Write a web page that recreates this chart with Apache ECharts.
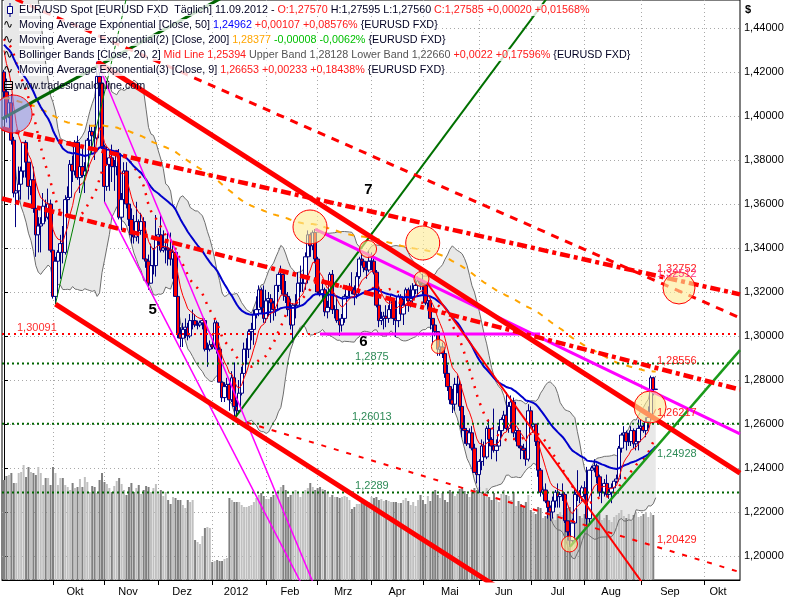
<!DOCTYPE html>
<html>
<head>
<meta charset="utf-8">
<script src="https://cdn.jsdelivr.net/npm/echarts@6/dist/echarts.min.js"></script>
<style>html,body{margin:0;padding:0;background:#fff}#c{width:800px;height:600px}</style>
</head>
<body>
<div id="c"></div>
<script>
// EUR/USD spot, daily bars from Mon 5 Sep 2011 (bar 0) to Tue 11 Sep 2012 (bar 266)
const open = [
  1.4200,1.4110,1.4000,1.4060,1.3890,1.3650,1.3660,1.3690,1.3750,1.3880,1.3790,1.3680,1.3710,1.3580,1.3460,1.3500,1.3510,1.3590,1.3540,1.3600,
  1.3390,1.3180,1.3340,1.3380,1.3420,1.3380,1.3620,1.3630,1.3780,1.3750,1.3880,1.3720,1.3770,1.3730,1.3750,1.3890,1.3930,1.3910,1.3900,1.4180,1.4150,
  1.3860,1.3680,1.3780,1.3810,1.3770,1.3770,1.3830,1.3540,1.3620,1.3750,1.3600,1.3530,1.3460,1.3450,1.3520,1.3480,1.3520,1.3350,1.3340,1.3240,1.3320,1.3320,
  1.3450,1.3460,1.3390,1.3400,1.3400,1.3390,1.3350,1.3380,1.3180,1.3010,1.2990,1.3030,1.3040,1.3000,1.3070,1.3070,1.3050,1.3050,1.3060,1.3070,1.2940,1.2940,
  1.2960,1.2950,1.3060,1.2940,1.2790,1.2720,1.2770,1.2780,1.2710,1.2810,1.2680,1.2660,1.2740,1.2830,1.2940,1.2940,1.3020,1.3030,1.3100,1.3120,1.3210,1.3130,
  1.3080,1.3160,1.3170,1.3150,1.3120,1.3230,1.3280,1.3280,1.3190,1.3180,1.3120,1.3050,1.3140,1.3140,1.3240,1.3240,1.3240,1.3360,1.3460,1.3410,1.3470,
  1.3350,1.3200,1.3190,1.3210,1.3110,1.3130,1.3280,1.3120,1.3120,1.3070,1.3050,1.3080,1.3180,1.3220,1.3220,1.3210,1.3190,1.3270,1.3350,1.3340,1.3310,1.3300,
  1.3340,1.3340,1.3290,1.3140,1.3070,1.3080,1.3090,1.3080,1.3120,1.3160,1.3080,1.3070,1.3180,1.3100,1.3140,1.3210,1.3160,1.3170,1.3210,1.3230,1.3250,
  1.3240,1.3230,1.3150,1.3160,1.3080,1.3050,1.3020,1.2940,1.2950,1.2920,1.2830,1.2770,1.2710,1.2690,1.2780,1.2780,1.2680,1.2580,1.2570,1.2510,1.2560,1.2490,1.2380,
  1.2370,1.2430,1.2500,1.2450,1.2580,1.2530,1.2500,1.2480,1.2500,1.2570,1.2620,1.2640,1.2580,1.2680,1.2700,1.2560,1.2570,1.2500,1.2490,1.2480,1.2440,
  1.2660,1.2590,1.2600,1.2520,1.2390,1.2290,1.2300,1.2250,1.2220,1.2200,1.2250,1.2290,1.2270,1.2280,1.2280,1.2160,1.2110,1.2070,1.2150,1.2280,1.2290,1.2270,
  1.2310,1.2280,1.2170,1.2390,1.2400,1.2410,1.2360,1.2290,1.2290,1.2330,1.2280,1.2290,1.2310,1.2340,1.2350,1.2490,1.2550,1.2560,1.2520,1.2520,1.2570,1.2510,1.2520,
  1.2580,1.2590,1.2570,1.2610,1.2630,1.2810,1.27570
];
const high = [
  1.4210,1.4170,1.4080,1.4100,1.3905,1.3690,1.3770,1.3770,1.3880,1.3890,1.3790,1.3780,1.3770,1.3590,1.3540,1.3540,1.3650,1.3620,1.3670,1.3620,
  1.3410,1.3360,1.3390,1.3460,1.3500,1.3640,1.3680,1.3800,1.3820,1.3890,1.3910,1.3800,1.3850,1.3790,1.3900,1.3960,1.3950,1.3960,1.4247,1.4200,1.4160,
  1.3870,1.3800,1.3850,1.3870,1.3800,1.3840,1.3850,1.3650,1.3790,1.3790,1.3640,1.3580,1.3550,1.3610,1.3530,1.3560,1.3540,1.3400,1.3370,1.3420,1.3400,1.3550,
  1.3490,1.3550,1.3480,1.3440,1.3470,1.3470,1.3430,1.3390,1.3220,1.3040,1.3060,1.3080,1.3060,1.3100,1.3120,1.3100,1.3070,1.3070,1.3080,1.3080,1.2970,1.2980,
  1.2980,1.3080,1.3070,1.2950,1.2810,1.2790,1.2810,1.2790,1.2840,1.2880,1.2710,1.2800,1.2860,1.2970,1.2990,1.3030,1.3060,1.3120,1.3180,1.3230,1.3220,1.3230,
  1.3210,1.3200,1.3190,1.3160,1.3230,1.3290,1.3320,1.3290,1.3250,1.3200,1.3170,1.3150,1.3190,1.3290,1.3320,1.3270,1.3380,1.3480,1.3470,1.3480,1.3486,
  1.3360,1.3270,1.3250,1.3220,1.3160,1.3290,1.3300,1.3140,1.3180,1.3080,1.3100,1.3190,1.3230,1.3240,1.3290,1.3230,1.3290,1.3360,1.3385,1.3350,1.3340,1.3385,
  1.3380,1.3370,1.3300,1.3160,1.3110,1.3110,1.3140,1.3140,1.3190,1.3170,1.3110,1.3190,1.3190,1.3170,1.3220,1.3220,1.3230,1.3240,1.3260,1.3270,1.3260,
  1.3283,1.3240,1.3180,1.3170,1.3080,1.3060,1.3020,1.2990,1.2970,1.2940,1.2870,1.2790,1.2760,1.2810,1.2820,1.2800,1.2690,1.2640,1.2580,1.2580,1.2590,1.2510,1.2420,
  1.2440,1.2530,1.2520,1.2590,1.2620,1.2540,1.2670,1.2530,1.2590,1.2630,1.2660,1.2745,1.2700,1.2730,1.2720,1.2590,1.2580,1.2510,1.2510,1.2490,1.2690,
  1.2680,1.2620,1.2600,1.2540,1.2400,1.2330,1.2330,1.2290,1.2230,1.2270,1.2300,1.2330,1.2290,1.2330,1.2290,1.2160,1.2140,1.2170,1.2310,1.2390,1.2300,1.2320,
  1.2340,1.2405,1.2390,1.2410,1.2440,1.2420,1.2370,1.2310,1.2350,1.2370,1.2320,1.2330,1.2340,1.2370,1.2500,1.2560,1.2590,1.2570,1.2560,1.2590,1.2580,1.2560,1.2620,
  1.2620,1.2600,1.2630,1.2680,1.2820,1.2815,1.27595
];
const low = [
  1.4080,1.3970,1.3990,1.3870,1.3630,1.3495,1.3610,1.3620,1.3720,1.3720,1.3620,1.3640,1.3560,1.3360,1.3380,1.3380,1.3510,1.3520,1.3530,1.3380,
  1.3170,1.3145,1.3220,1.3260,1.3330,1.3370,1.3540,1.3620,1.3700,1.3730,1.3710,1.3650,1.3720,1.3650,1.3740,1.3850,1.3830,1.3800,1.3890,1.4090,1.3850,
  1.3610,1.3660,1.3660,1.3700,1.3660,1.3730,1.3530,1.3480,1.3600,1.3580,1.3500,1.3420,1.3420,1.3430,1.3420,1.3460,1.3350,1.3310,1.3210,1.3240,1.3280,1.3270,
  1.3410,1.3380,1.3380,1.3330,1.3320,1.3320,1.3260,1.3180,1.2990,1.2950,1.2950,1.2990,1.2980,1.2990,1.3030,1.3040,1.3030,1.3040,1.3030,1.2930,1.2860,1.2930,
  1.2940,1.2940,1.2920,1.2790,1.2700,1.2700,1.2750,1.2660,1.2700,1.2624,1.2640,1.2650,1.2730,1.2820,1.2870,1.2900,1.2980,1.2960,1.3080,1.3090,1.3100,1.3060,
  1.3060,1.3090,1.3060,1.3070,1.3090,1.3200,1.3210,1.3160,1.3150,1.3090,1.3030,1.2970,1.3080,1.3140,1.3200,1.3200,1.3210,1.3350,1.3360,1.3390,1.3330,
  1.3190,1.3180,1.3160,1.3090,1.3080,1.3120,1.3100,1.3080,1.3060,1.3000,1.3020,1.3060,1.3160,1.3170,1.3190,1.3140,1.3170,1.3260,1.3320,1.3290,1.3260,1.3290,
  1.3300,1.3280,1.3130,1.3040,1.3050,1.3030,1.3040,1.3060,1.3100,1.3050,1.2995,1.3040,1.3080,1.3050,1.3110,1.3110,1.3130,1.3150,1.3190,1.3180,1.3210,
  1.3190,1.3140,1.3120,1.3030,1.2960,1.3000,1.2910,1.2910,1.2900,1.2810,1.2750,1.2690,1.2650,1.2660,1.2740,1.2660,1.2540,1.2510,1.2500,1.2490,1.2480,1.2380,1.2330,
  1.2288,1.2390,1.2410,1.2440,1.2510,1.2440,1.2470,1.2430,1.2480,1.2540,1.2590,1.2570,1.2560,1.2650,1.2540,1.2520,1.2490,1.2440,1.2440,1.2410,1.2430,
  1.2590,1.2560,1.2500,1.2360,1.2270,1.2280,1.2240,1.2170,1.2160,1.2170,1.2220,1.2220,1.2220,1.2250,1.2150,1.2070,1.2042,1.2060,1.2120,1.2250,1.2240,1.2250,
  1.2260,1.2130,1.2140,1.2370,1.2380,1.2330,1.2270,1.2240,1.2270,1.2270,1.2260,1.2240,1.2290,1.2330,1.2340,1.2470,1.2530,1.2480,1.2500,1.2500,1.2490,1.2480,1.2480,
  1.2570,1.2560,1.2540,1.2580,1.2620,1.2730,1.27560
];
const close = [
  1.4110,1.4000,1.4060,1.3890,1.3650,1.3660,1.3690,1.3750,1.3880,1.3790,1.3680,1.3710,1.3580,1.3460,1.3500,1.3510,1.3590,1.3540,1.3600,1.3390,
  1.3180,1.3340,1.3380,1.3420,1.3380,1.3620,1.3630,1.3780,1.3750,1.3880,1.3720,1.3770,1.3730,1.3750,1.3890,1.3930,1.3910,1.3900,1.4180,1.4150,1.3860,
  1.3680,1.3780,1.3810,1.3770,1.3770,1.3830,1.3540,1.3620,1.3750,1.3600,1.3530,1.3460,1.3450,1.3520,1.3480,1.3520,1.3350,1.3340,1.3240,1.3320,1.3320,1.3450,
  1.3460,1.3390,1.3400,1.3400,1.3390,1.3350,1.3380,1.3180,1.3010,1.2990,1.3030,1.3040,1.3000,1.3070,1.3070,1.3050,1.3050,1.3060,1.3070,1.2940,1.2940,1.2960,
  1.2950,1.3060,1.2940,1.2790,1.2720,1.2770,1.2780,1.2710,1.2810,1.2680,1.2660,1.2740,1.2830,1.2940,1.2940,1.3020,1.3030,1.3100,1.3120,1.3210,1.3130,1.3080,
  1.3160,1.3170,1.3150,1.3120,1.3230,1.3280,1.3280,1.3190,1.3180,1.3120,1.3050,1.3140,1.3140,1.3240,1.3240,1.3240,1.3360,1.3460,1.3410,1.3470,1.3350,
  1.3200,1.3190,1.3210,1.3110,1.3130,1.3280,1.3120,1.3120,1.3070,1.3050,1.3080,1.3180,1.3220,1.3220,1.3210,1.3190,1.3270,1.3350,1.3340,1.3310,1.3300,1.3340,
  1.3340,1.3290,1.3140,1.3070,1.3080,1.3090,1.3080,1.3120,1.3160,1.3080,1.3070,1.3180,1.3100,1.3140,1.3210,1.3160,1.3170,1.3210,1.3230,1.3250,1.3240,
  1.3230,1.3150,1.3160,1.3080,1.3050,1.3020,1.2940,1.2950,1.2920,1.2830,1.2770,1.2710,1.2690,1.2780,1.2780,1.2680,1.2580,1.2570,1.2510,1.2560,1.2490,1.2380,1.2370,
  1.2430,1.2500,1.2450,1.2580,1.2530,1.2500,1.2480,1.2500,1.2570,1.2620,1.2640,1.2580,1.2680,1.2700,1.2560,1.2570,1.2500,1.2490,1.2480,1.2440,1.2660,
  1.2590,1.2600,1.2520,1.2390,1.2290,1.2300,1.2250,1.2220,1.2200,1.2250,1.2290,1.2270,1.2280,1.2280,1.2160,1.2110,1.2070,1.2150,1.2280,1.2290,1.2270,1.2310,
  1.2280,1.2170,1.2390,1.2400,1.2410,1.2360,1.2290,1.2290,1.2330,1.2280,1.2290,1.2310,1.2340,1.2350,1.2490,1.2550,1.2560,1.2520,1.2520,1.2570,1.2510,1.2520,1.2580,
  1.2590,1.2570,1.2610,1.2630,1.2810,1.27565,1.27585
];
// tick volume per bar
const volume = [
  100,104,105,107,97,97,107,108,115,103,113,108,107,105,113,107,95,102,102,95,
  113,107,95,102,102,95,93,90,97,92,93,101,93,103,98,88,94,93,87,100,107,
  98,96,92,88,94,99,102,96,90,85,93,97,88,92,95,86,90,94,93,88,92,96,
  86,90,84,88,80,76,83,82,80,80,75,72,80,78,80,40,38,36,44,52,53,52,
  18,19,20,19,19,21,22,82,80,78,78,78,75,73,73,74,75,78,82,85,87,84,
  81,81,83,85,88,90,93,95,90,83,85,87,90,88,83,86,90,92,97,93,90,
  92,93,91,90,88,83,85,83,83,82,83,84,83,80,71,73,76,76,77,77,78,78,
  83,82,83,80,81,79,80,79,78,78,78,77,77,80,82,79,75,78,74,80,85,
  80,76,84,79,88,90,85,82,87,80,78,90,88,84,86,91,93,89,86,83,88,92,90,
  93,88,85,92,83,80,87,82,78,86,90,85,84,80,88,74,79,76,73,78,85,
  70,68,66,73,72,62,64,70,67,63,60,66,68,65,70,72,73,69,66,71,64,62,
  66,68,70,62,60,64,66,60,62,65,60,58,63,65,67,70,64,62,66,60,65,68,63,
  64,66,68,63,67,65,0
];
// closes of the 20 sessions before the first bar (8 Aug - 2 Sep 2011), used to start the indicators
const priorClose = [1.4190,1.4340,1.4180,1.4240,1.4240,1.4430,1.4400,1.4430,1.4340,1.4400,
                    1.4400,1.4450,1.4400,1.4380,1.4490,1.4500,1.4460,1.4370,1.4240,1.4200];
const ema50Start = 1.4300;
const ema200Start = 1.4020;

// time axis: first bar of each month, label positions and names
const monthStart = [20, 41, 63, 85, 107, 128, 150, 171, 194, 215, 237, 260, 286];
const monthLabelAt = [29, 50.6, 72.7, 94.7, 116.7, 138.4, 160.4, 182, 204, 226, 247.8, 271.8, 291.4];
const monthNames = ['Okt', 'Nov', 'Dez', '2012', 'Feb', 'Mrz', 'Apr', 'Mai', 'Jun', 'Jul', 'Aug', 'Sep', 'Okt'];
const priceTicks = [1.20, 1.22, 1.24, 1.26, 1.28, 1.30, 1.32, 1.34, 1.36, 1.38, 1.40, 1.42, 1.44];

// horizontal levels and their captions
const levels = [1.30091, 1.2875, 1.26013, 1.2289];
const levelText = ['1,30091', '1,2875', '1,26013', '1,2289'];
const levelLabelBar = [5.3, 143.3, 142, 143.3];

// trend lines: two anchor points each [bar, price]
const lineA = [[38, 1.4247], [266, 1.26217]];
const lineB = [[21, 1.3145], [94, 1.2624]];
const lineC = [[-1.633, 1.3945], [266, 1.32752]];
const lineD = [[-1.633, 1.4562], [266, 1.32512]];
const lineE = [[-1.633, 1.36273], [266, 1.28556]];
const lineF = [[94, 1.2624], [266, 1.20429]];
const lineG = [[172.7, 1.3241], [262, 1.1855]];
const green1 = [[21, 1.3145], [44.1, 1.4255]];
const green2 = [[-1.633, 1.39818], [87.3, 1.45273]];
const green3 = [[94, 1.2624], [221.5, 1.4534]];
const green4 = [[231, 1.2042], [266, 1.24928]];
const pink1 = [[38, 1.4247], [125.7, 1.18909]];
const pink2 = [[41, 1.3610], [120, 1.1904]];
const pink3 = [[127, 1.3486], [266, 1.27396]];
const pink4 = [[129, 1.30091], [218.8, 1.30091]];

// values of the trend lines at the last bar, as captioned
const lineTags = [
  [266.5, 1.32752, '1,32752'], [266.5, 1.32512, '1,32512'], [266.5, 1.28556, '1,28556'],
  [266.5, 1.26217, '1,26217'], [266.5, 1.24928, '1,24928'], [266.5, 1.20429, '1,20429']
];
// marked turning points [bar, price]
const marks = [[124.9, 1.34955], [170.9, 1.34227], [148.6, 1.33955], [170.4, 1.32591],
               [177.3, 1.29523], [275.5, 1.32182], [263.7, 1.26773], [230.8, 1.20545], [3.7, 1.40091]];
// wave counts [bar, price, label]
const waves = [[60.7, 1.31182, '5'], [146.7, 1.29714, '6'], [148.7, 1.36636, '7']];

// ---------- styles ----------
const markRadius = [17, 17, 8.5, 7.5, 7, 16, 16, 8, 19];
const tagColor = ['#ff2020', '#ff3a8a', '#ff2020', '#ff2020', '#2e8b57', '#ff2020'];
const tagBelow = [false, false, false, false, true, false];
const FONT = '"Liberation Sans", Arial, sans-serif';
const HEAD_FONT = '10.75px ' + FONT;
const X_MIN = -0.816, X_MAX = 300.4;
const Y_MIN = 1.18909, Y_MAX = 1.45273;

// ---------- indicators ----------
const N = close.length;
const W = priorClose.length;
const allClose = priorClose.concat(close);
function ema(n, seed) {
  const k = 2 / (n + 1);
  let e = seed;
  return allClose.map(v => (e = e + k * (v - e))).slice(W);
}
const ema9 = ema(9, priorClose[0]);
const ema50 = ema(50, ema50Start);
const ema200 = ema(200, ema200Start);
const bbMid = [], bbUp = [], bbLo = [];
for (let i = 0; i < N; i++) {
  const w = allClose.slice(i + W - 19, i + W + 1);
  const m = w.reduce((a, b) => a + b, 0) / w.length;
  const sd = Math.sqrt(w.reduce((a, b) => a + (b - m) * (b - m), 0) / w.length);
  bbMid.push(m); bbUp.push(m + 2 * sd); bbLo.push(m - 2 * sd);
}
const pts = arr => arr.map((v, i) => [i, v]);

// extend a two-point line to the plot edges
function ray(seg, mode) {
  const p = seg[0], q = seg[1];
  const s = (q[1] - p[1]) / (q[0] - p[0]);
  const at = x => [x, p[1] + s * (x - p[0])];
  const a = mode === 'both' ? at(X_MIN) : p;
  const b = mode === 'none' ? q : at(X_MAX);
  return [a, b];
}
function lineSeries(data, color, width, dash, z) {
  return {
    type: 'line', data, symbol: 'none', silent: true, animation: false, z: z || 5,
    lineStyle: { color, width, type: dash || 'solid', cap: 'butt' }
  };
}

const series = [];
// Bollinger band fill
series.push({
  type: 'custom', z: 1, silent: true, data: [[0, bbMid[0]]],
  renderItem: (params, api) => {
    const poly = [];
    for (let i = 0; i < N; i++) poly.push(api.coord([i, bbUp[i]]));
    for (let i = N - 1; i >= 0; i--) poly.push(api.coord([i, bbLo[i]]));
    return { type: 'polygon', shape: { points: poly }, style: { fill: '#e8e8e8' } };
  }
});
series.push(lineSeries(pts(bbUp), '#6e6e6e', 1, 'solid', 2));
series.push(lineSeries(pts(bbLo), '#6e6e6e', 1, 'solid', 2));
// volume
series.push({
  type: 'bar', yAxisIndex: 1, barWidth: 2, z: 2, silent: true,
  data: volume.map((v, i) => ({ value: [i, v], itemStyle: { color: close[i] >= open[i] ? '#c0c0c0' : '#808080' } }))
});
// price bars
series.push({
  type: 'candlestick', z: 3, barWidth: 3.8, silent: true,
  encode: { x: 0, y: [1, 2, 3, 4] },
  data: close.map((c, i) => [i, open[i], c, low[i], high[i]]),
  itemStyle: { color: '#ffffff', color0: '#ff0000', borderColor: '#000080', borderColor0: '#000080', borderWidth: 1 }
});
// indicators
series.push(lineSeries(pts(ema200), '#ffa500', 2, [6, 7], 4));
series.push(lineSeries(pts(bbMid), '#ff0000', 2.5, [2, 7], 4));
series.push(lineSeries(pts(ema50), '#0000cc', 2, 'solid', 4));
series.push(lineSeries(pts(ema9), '#ff0000', 1, 'solid', 4));
// horizontal levels
series.push(lineSeries([[X_MIN, levels[0]], [X_MAX, levels[0]]], '#ff0000', 2, [2, 4], 5));
for (let k = 1; k < levels.length; k++) {
  series.push(lineSeries([[X_MIN, levels[k]], [X_MAX, levels[k]]], '#006400', 2, [2, 3], 5));
}
// trend lines
series.push(lineSeries(ray(green2, 'both'), '#006400', 3, 'solid', 5));
series.push(lineSeries(ray(green1, 'right'), '#008000', 1, 'solid', 5));
series.push(lineSeries(ray(green3, 'right'), '#007000', 2, 'solid', 5));
series.push(lineSeries(ray(green4, 'right'), '#1a9a1a', 2.5, 'solid', 5));
series.push(lineSeries(ray(pink1, 'right'), '#ff00ff', 1.5, 'solid', 5));
series.push(lineSeries(ray(pink2, 'right'), '#ff00ff', 1.5, 'solid', 5));
series.push(lineSeries(ray(pink3, 'right'), '#ff00ff', 3, 'solid', 5));
series.push(lineSeries(ray(pink4, 'none'), '#ff00ff', 3, 'solid', 5));
series.push(lineSeries(ray(lineD, 'both'), '#ff0000', 3, [8, 7], 5));
series.push(lineSeries(ray(lineC, 'both'), '#ff0000', 4.5, [10, 4, 4, 4], 5));
series.push(lineSeries(ray(lineE, 'both'), '#ff0000', 4.5, [10, 4, 4, 4], 5));
series.push(lineSeries(ray(lineF, 'right'), '#ff0000', 2, [5, 8], 5));
series.push(lineSeries(ray(lineG, 'right'), '#ff0000', 2, 'solid', 5));
series.push(lineSeries(ray(lineA, 'right'), '#ff0000', 5, 'solid', 5));
series.push(lineSeries(ray(lineB, 'right'), '#ff0000', 5, 'solid', 5));
// circled points
series.push({
  type: 'custom', z: 7, silent: true, data: marks,
  renderItem: (params, api) => {
    const i = params.dataIndex;
    const p = api.coord([api.value(0), api.value(1)]);
    const lav = i === marks.length - 1;
    return {
      type: 'circle', shape: { cx: p[0], cy: p[1], r: markRadius[i] },
      style: { fill: lav ? 'rgba(140,140,225,0.55)' : 'rgba(253,236,150,0.62)', stroke: '#ff0000', lineWidth: 1 }
    };
  }
});
// captions on levels and line ends
series.push({
  type: 'custom', z: 8, silent: true, data: levels.map((v, k) => [levelLabelBar[k], v]),
  renderItem: (params, api) => {
    const k = params.dataIndex;
    const p = api.coord([api.value(0), api.value(1)]);
    return {
      type: 'text', x: p[0], y: p[1] - 1,
      style: { text: levelText[k], fill: k === 0 ? '#ff3030' : '#2e8b57', font: '11px ' + FONT, align: 'left', verticalAlign: 'bottom' }
    };
  }
});
series.push({
  type: 'custom', z: 8, silent: true, data: lineTags.map(t => [t[0], t[1]]),
  renderItem: (params, api) => {
    const k = params.dataIndex;
    const p = api.coord([api.value(0), api.value(1)]);
    return {
      type: 'text', x: p[0], y: tagBelow[k] ? p[1] + 1 : p[1] - 1,
      style: { text: lineTags[k][2], fill: tagColor[k], font: '11px ' + FONT, align: 'left', verticalAlign: tagBelow[k] ? 'top' : 'bottom' }
    };
  }
});
series.push({
  type: 'custom', z: 8, silent: true, data: waves.map(t => [t[0], t[1]]),
  renderItem: (params, api) => {
    const k = params.dataIndex;
    const p = api.coord([api.value(0), api.value(1)]);
    return {
      type: 'text', x: p[0], y: p[1],
      style: { text: waves[k][2], fill: '#000000', font: 'bold 15px ' + FONT, align: 'center', verticalAlign: 'middle' }
    };
  }
});

// header lines
const rich = {
  r: { fill: '#ff1a1a', font: HEAD_FONT },
  b: { fill: '#0000ff', font: HEAD_FONT },
  o: { fill: '#ffa500', font: HEAD_FONT },
  g: { fill: '#00c000', font: HEAD_FONT },
  s: { fill: '#555555', font: HEAD_FONT }
};
const header = [
  'EUR/USD Spot [EURUSD FXD  Täglich] 11.09.2012 - {r|O:1,27570} H:1,27595 L:1,27560 {r|C:1,27585 +0,00020 +0,01568%}',
  'Moving Average Exponential [Close, 50] {b|1,24962} {r|+0,00107 +0,08576%} {EURUSD FXD}',
  'Moving Average Exponential(2) [Close, 200] {o|1,28377} {g|-0,00008 -0,0062%} {EURUSD FXD}',
  'Bollinger Bands [Close, 20, 2] {r|Mid Line 1,25394} {s|Upper Band 1,28128 Lower Band 1,22660} {r|+0,0022 +0,17596%} {EURUSD FXD}',
  'Moving Average Exponential(3) [Close, 9] {r|1,26653 +0,00233 +0,18438%} {EURUSD FXD}'
];
const graphic = [];
header.forEach((t, k) => {
  graphic.push({
    type: 'text', x: 19, y: 10 + 15 * k, z: 100,
    style: { text: t, rich, fill: '#000022', font: HEAD_FONT, verticalAlign: 'middle',
             backgroundColor: 'rgba(255,255,255,0.8)', padding: [1, 1, 0, 0] }
  });
  if (k > 0) {
    graphic.push({ type: 'text', x: 3, y: 10 + 15 * k, z: 100,
      style: { text: '∿', fill: '#000000', font: '12px "DejaVu Sans"', verticalAlign: 'middle' } });
  }
});
graphic.push({ type: 'line', z: 100, shape: { x1: 10, y1: 3, x2: 10, y2: 17 }, style: { stroke: '#000080', lineWidth: 1 } });
graphic.push({ type: 'rect', z: 100, shape: { x: 7.5, y: 6.5, width: 5, height: 7 }, style: { fill: '#ffffff', stroke: '#000080', lineWidth: 1 } });
graphic.push({ type: 'rect', z: 100, shape: { x: 4.5, y: 81.5, width: 8, height: 8 }, style: { fill: 'rgba(255,255,255,0.6)', stroke: '#000000', lineWidth: 1 } });
graphic.push({ type: 'line', z: 100, shape: { x1: 5, y1: 84.5, x2: 12, y2: 84.5 }, style: { stroke: '#000000', lineWidth: 1 } });
graphic.push({ type: 'line', z: 100, shape: { x1: 5, y1: 87.5, x2: 12, y2: 87.5 }, style: { stroke: '#000000', lineWidth: 1 } });
graphic.push({ type: 'text', x: 15, y: 86, z: 100,
  style: { text: 'www.tradesignalonline.com', fill: '#000022', font: HEAD_FONT, verticalAlign: 'middle' } });
graphic.push({ type: 'text', x: 745, y: 10, z: 100,
  style: { text: '$', fill: '#000000', font: 'bold 11px ' + FONT, verticalAlign: 'middle' } });

const chart = echarts.init(document.getElementById('c'), null, { renderer: 'canvas', width: 800, height: 600 });
chart.setOption({
  animation: false,
  backgroundColor: '#ffffff',
  textStyle: { fontFamily: FONT },
  grid: { left: 2, right: 60, top: 0, bottom: 20, show: true, borderColor: '#000000', borderWidth: 1, backgroundColor: 'transparent' },
  xAxis: {
    type: 'value', min: X_MIN, max: X_MAX,
    axisLine: { show: true, onZero: false, lineStyle: { color: '#000000', width: 1 } },
    axisTick: { show: true, customValues: monthStart, length: 5, lineStyle: { color: '#000000' } },
    axisLabel: {
      customValues: monthLabelAt, color: '#000000', fontSize: 11, fontFamily: FONT, margin: 6,
      formatter: v => {
        let best = 0;
        monthLabelAt.forEach((m, k) => { if (Math.abs(m - v) < Math.abs(monthLabelAt[best] - v)) best = k; });
        return monthNames[best];
      }
    },
    splitLine: { show: true, lineStyle: { color: '#a8a8a8', type: [1, 3], width: 1 } }
  },
  yAxis: [{
    type: 'value', position: 'right', min: Y_MIN, max: Y_MAX,
    axisLine: { show: true, lineStyle: { color: '#000000', width: 1 } },
    axisTick: { show: true, customValues: priceTicks, length: 4, lineStyle: { color: '#000000' } },
    axisLabel: { customValues: priceTicks, color: '#000000', fontSize: 11, fontFamily: FONT, margin: 4,
                 formatter: v => v.toFixed(5).replace('.', ',') },
    splitLine: { show: true, lineStyle: { color: '#a8a8a8', type: [1, 3], width: 1 } }
  }, {
    type: 'value', min: 0, max: 580, show: false, splitLine: { show: false }
  }],
  series,
  graphic
});
</script>
</body>
</html>
